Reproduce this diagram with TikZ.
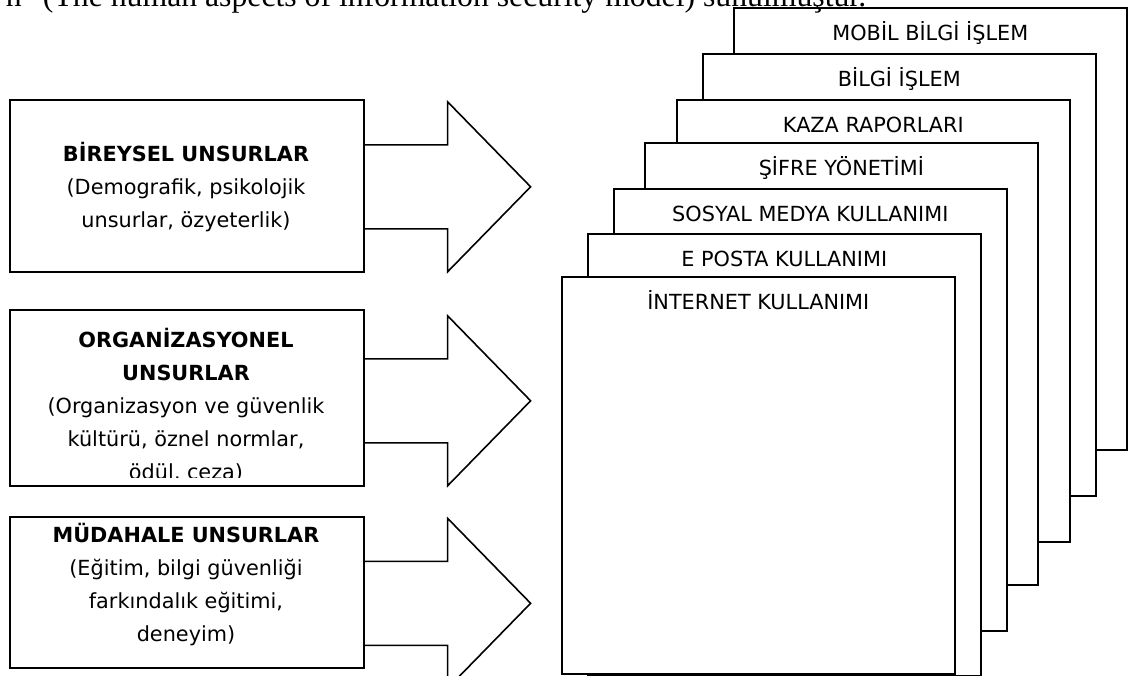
\documentclass[tikz,border=0pt]{standalone}
\usepackage{fontspec}
\setmainfont{DejaVu Sans}
\newfontfamily\serifcap{Liberation Serif}
\usetikzlibrary{positioning,calc}

\begin{document}
\begin{tikzpicture}[x=0.75pt,y=-0.75pt,line width=1.2pt,
      lbox/.style={draw,inner sep=0pt,minimum width=265.5pt,anchor=north west},
      ltxt/.style={align=center,inner sep=0pt,font=\fontsize{15.6}{24.75}\selectfont},
      card/.style={draw,fill=white,inner sep=0pt,minimum width=294.75pt,
                   minimum height=331.5pt,anchor=north west},
      cardlbl/.style={anchor=base,inner sep=0pt,font=\fontsize{15.6}{18}\selectfont},
      blk/.style={line join=miter}]
  \useasboundingbox (0,0) rectangle (1131,675);

  % left: three groups of factors
  \node[lbox,minimum height=129pt] (ind) at (9,99) {};
  \node[lbox,minimum height=132pt] (org) at (9,309) {};
  \node[lbox,minimum height=113.25pt] (mud) at (9,516) {};
  \node[ltxt] (indt) at (186,187)
    {\textbf{BİREYSEL UNSURLAR}\\(Demografik, psikolojik\\unsurlar, özyeterlik)};
  \begin{scope}
    \clip (org.north west) rectangle ($(org.south east)+(0,-9)$);
    \node[ltxt] (orgt) at (186,405)
      {\textbf{ORGANİZASYONEL}\\\textbf{UNSURLAR}\\(Organizasyon ve güvenlik\\kültürü, öznel normlar,\\ödül, ceza)};
  \end{scope}
  \node[ltxt] (mudt) at (186,585)
    {\textbf{MÜDAHALE UNSURLAR}\\(Eğitim, bilgi güvenliği\\farkındalık eğitimi,\\deneyim)};
  \foreach \b/\dy in {ind/1,org/3,mud/11}
    \draw[blk] ($(\b.east)+(0,\dy)$) ++(0,-42) -- ++(83,0) -- ++(0,-43)
      -- ++(83,85) -- ++(-83,85) -- ++(0,-43) -- ++(-83,0);

  % right: stacked cards, back to front
  \node[card] (mob) at (733,7) {};
  \node[card] (bil) at (702,53) {};
  \node[card] (kaz) at (676,99) {};
  \node[card] (sif) at (644,142) {};
  \node[card] (sos) at (613,188) {};
  \node[card] (epo) at (587,233) {};
  \node[card,minimum height=297.75pt] (int) at (561,276) {};
  \node[cardlbl] (mobl) at ($(mob.north)+(0,33.5)$) {MOBİL BİLGİ İŞLEM};
  \node[cardlbl] (bill) at ($(bil.north)+(0,33.5)$) {BİLGİ İŞLEM};
  \node[cardlbl] (kazl) at ($(kaz.north)+(0,33.5)$) {KAZA RAPORLARI};
  \node[cardlbl] (sifl) at ($(sif.north)+(0,33.5)$) {ŞİFRE YÖNETİMİ};
  \node[cardlbl] (sosl) at ($(sos.north)+(0,33.5)$) {SOSYAL MEDYA KULLANIMI};
  \node[cardlbl] (epol) at ($(epo.north)+(0,33.5)$) {E POSTA KULLANIMI};
  \node[cardlbl] (intl) at ($(int.north)+(0,33.5)$) {İNTERNET KULLANIMI};

  % caption line, cut off at the top
  \node[anchor=base west,inner sep=0pt,font=\serifcap\fontsize{23.8}{28}\selectfont]
    (cap) at (5,6) {n\hspace{16pt}(The human aspects of information security model) sunulmuştur.};
\end{tikzpicture}
\end{document}
